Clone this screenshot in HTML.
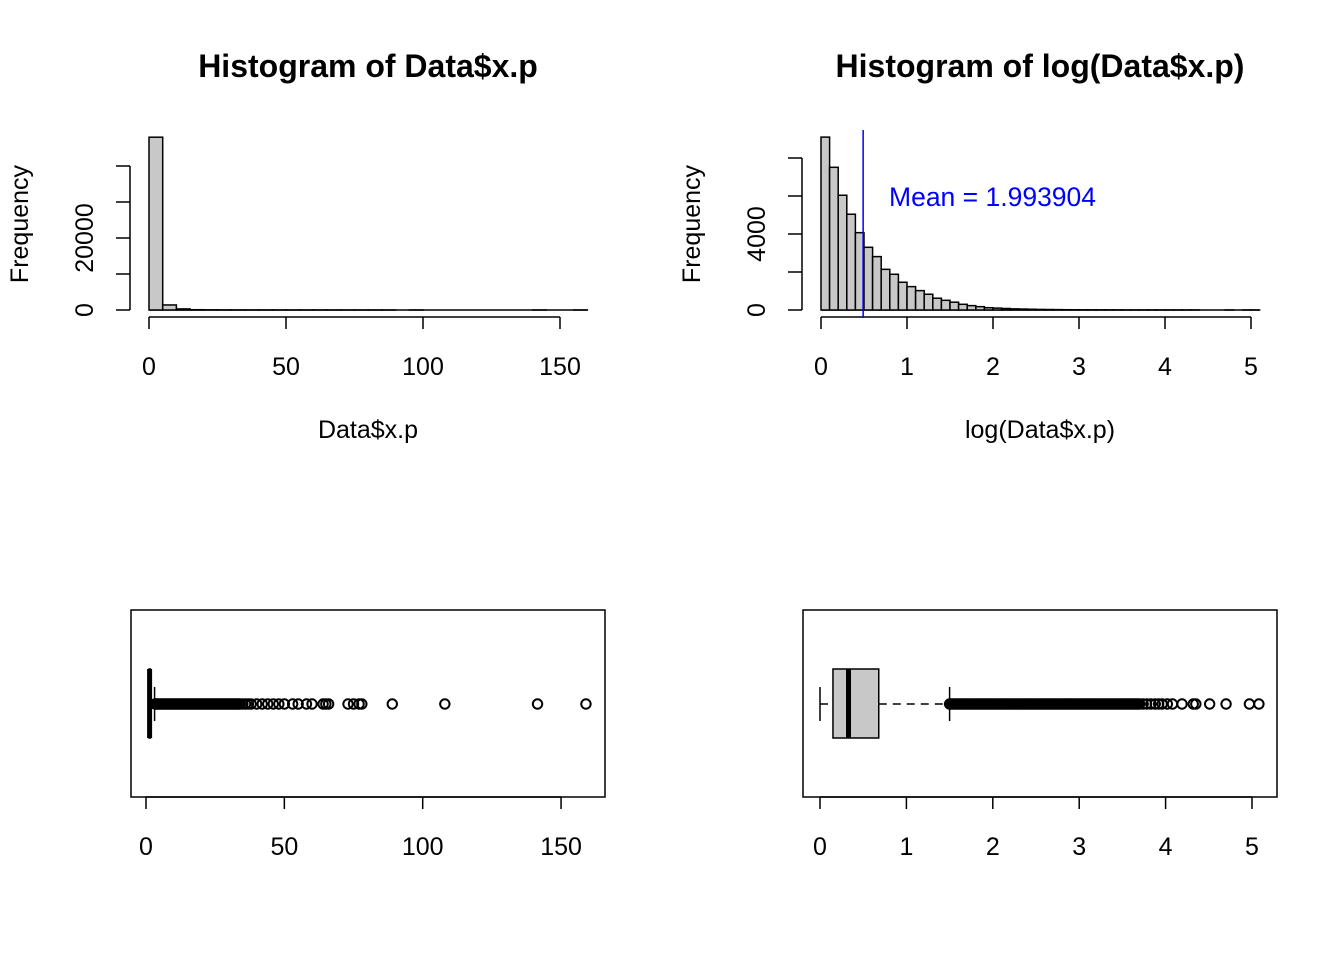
<!DOCTYPE html>
<html><head><meta charset="utf-8"><style>
body{margin:0;background:#fff}
svg{display:block;font-family:"Liberation Sans",Arial,sans-serif}
</style></head><body>
<svg id="c" width="1344" height="960" viewBox="0 0 1344 960" xmlns="http://www.w3.org/2000/svg"></svg>
<script>
// Histogram 1 (Data$x.p), bin width 5
const h1Counts = [48000, 1400, 300, 80, 40, 20, 12, 8, 5, 4, 3, 2, 2, 1, 1, 1, 1, 1, 0, 1, 0, 0, 0, 0, 0, 0, 0, 0, 1, 0, 0, 1];
const h1XTicks = [0, 50, 100, 150];
const h1YTicks = [0, 10000, 20000, 30000, 40000];
const h1YLabels = ["0", "", "20000", "", ""];
// Histogram 2 (log), bin width 0.1
const h2Counts = [9100, 7510, 6040, 5040, 4070, 3300, 2810, 2140, 1880, 1460, 1230, 1020, 830, 620, 510, 410, 300, 230, 175, 120, 100, 80, 60, 50, 40, 30, 25, 20, 15, 12, 10, 8, 6, 5, 4, 3, 3, 2, 2, 1, 1, 1, 1, 1, 0, 0, 0, 1, 0, 1, 1];
const h2XTicks = [0, 1, 2, 3, 4, 5];
const h2YTicks = [0, 2000, 4000, 6000, 8000];
const h2YLabels = ["0", "", "4000", "", ""];
const meanLog = 0.49;
const meanLabel = "Mean = 1.993904";
// Boxplot 1 stats: min, q1, median, q3, upper whisker
const b1Stats = [0.9, 1.1, 1.3, 1.6, 3.1];
const b1Out = [3.3,3.6,4,4.5,5,5.5,6,6.5,7,7.5,8,8.5,9,9.5,10,10.5,11,11.5,12,12.5,13,13.5,14,14.5,15,15.5,16,16.5,17,17.5,18,18.5,19,19.5,20,20.5,21,21.5,22,22.5,23,23.5,24,24.5,25,25.5,26,26.5,27,27.5,28,28.5,29,29.5,30,30.5,31,31.5,32,32.5,33,33.5,34,35,36,37,38,40,42,44,46,48,50,53,55,58,60,64,65,66,73,75,77,78,89,108,141.5,159];
const b1Ticks = [0, 50, 100, 150];
// Boxplot 2 stats
const b2Stats = [0.0, 0.15, 0.33, 0.68, 1.5];
const b2Out = [1.5,1.52,1.54,1.56,1.58,1.6,1.62,1.64,1.66,1.68,1.7,1.72,1.74,1.76,1.78,1.8,1.82,1.84,1.86,1.88,1.9,1.92,1.94,1.96,1.98,2,2.02,2.04,2.06,2.08,2.1,2.12,2.14,2.16,2.18,2.2,2.22,2.24,2.26,2.28,2.3,2.32,2.34,2.36,2.38,2.4,2.42,2.44,2.46,2.48,2.5,2.52,2.54,2.56,2.58,2.6,2.62,2.64,2.66,2.68,2.7,2.72,2.74,2.76,2.78,2.8,2.82,2.84,2.86,2.88,2.9,2.92,2.94,2.96,2.98,3,3.02,3.04,3.06,3.08,3.1,3.12,3.14,3.16,3.18,3.2,3.22,3.24,3.26,3.28,3.3,3.32,3.34,3.36,3.38,3.4,3.42,3.44,3.46,3.48,3.5,3.52,3.54,3.56,3.58,3.6,3.62,3.64,3.66,3.68,3.7,3.74,3.78,3.83,3.88,3.92,3.96,4.02,4.08,4.19,4.32,4.35,4.51,4.70,4.97,5.08];
const b2Ticks = [0, 1, 2, 3, 4, 5];

const svg = document.getElementById('c');
const NS = 'http://www.w3.org/2000/svg';
function mk(tag, attrs, parent){const e=document.createElementNS(NS,tag);for(const k in attrs)e.setAttribute(k,attrs[k]);(parent||svg).appendChild(e);return e;}
function txt(x,y,s,size,opts){const t=mk('text',Object.assign({x:x,y:y,'font-size':size,'text-anchor':'middle',fill:'#000'},opts||{}));t.textContent=s;return t;}

function hist(counts,bw,x0px,pxPerUnit,y0,pxPerCount,name){
  const g=mk('g',{});
  
  
  mk('line',{x1:x0px,x2:x0px+counts.length*bw*pxPerUnit,y1:y0,y2:y0,stroke:'#000','stroke-width':1.5},g);
  counts.forEach((c,i)=>{
    const x=x0px+i*bw*pxPerUnit,w=bw*pxPerUnit,h=c*pxPerCount;
    const r=mk('rect',{x:x,y:y0-h,width:w,height:h,fill:'#c8c8c8',stroke:'#000','stroke-width':1.5},g);
    
    
  });
}
function xAxis(ticks,x0,ppu,y,labelY,name){
  const g=mk('g',{});
  
  
  const xs=ticks.map(v=>x0+v*ppu);
  mk('line',{x1:xs[0],x2:xs[xs.length-1],y1:y,y2:y,stroke:'#000','stroke-width':1.5},g);
  ticks.forEach((v,i)=>{mk('line',{x1:xs[i],x2:xs[i],y1:y,y2:y+12,stroke:'#000','stroke-width':1.5},g);
    g.appendChild(txt(xs[i],labelY,String(v),25));});
}
function yAxis(ticks,labels,x,y0,ppc,name){
  const g=mk('g',{});
  
  
  const ys=ticks.map(v=>y0-v*ppc);
  mk('line',{x1:x,x2:x,y1:ys[0],y2:ys[ys.length-1],stroke:'#000','stroke-width':1.5},g);
  ticks.forEach((v,i)=>{mk('line',{x1:x,x2:x-14,y1:ys[i],y2:ys[i],stroke:'#000','stroke-width':1.5},g);
    if(labels[i]){const bx=x-37;const t=txt(bx,ys[i],labels[i],25,{transform:`rotate(-90 ${bx} ${ys[i]})`});g.appendChild(t);}});
}

// Panel 1
txt(368,77,'Histogram of Data$x.p',32,{'font-weight':'bold'});
hist(h1Counts,5,149,2.74,310,0.0036,'histogram-raw-bars');
xAxis(h1XTicks,149,2.74,317,375,'x-axis-hist-raw');
yAxis(h1YTicks,h1YLabels,130,310,0.0036,'y-axis-hist-raw');
txt(368,438,'Data$x.p',25);
(function(){const t=txt(28,224,'Frequency',25,{transform:'rotate(-90 28 224)'});})();

// Panel 2
txt(1040,77,'Histogram of log(Data$x.p)',32,{'font-weight':'bold'});
hist(h2Counts,0.1,821,86,310,0.019,'histogram-log-bars');
xAxis(h2XTicks,821,86,317,375,'x-axis-hist-log');
yAxis(h2YTicks,h2YLabels,802,310,0.019,'y-axis-hist-log');
txt(1040,438,'log(Data$x.p)',25);
(function(){const t=txt(700,224,'Frequency',25,{transform:'rotate(-90 700 224)'});})();
(function(){const mx=821+meanLog*86;const l=mk('line',{x1:mx,x2:mx,y1:130,y2:318,stroke:'#0000ff','stroke-width':1.5});
 
 
 const t=txt(889,206,meanLabel,26.5,{'text-anchor':'start',fill:'#0000ff'});})();

function boxplot(stats,outs,ticks,fx,fw,x0,ppu,name){
  const g=mk('g',{});
  
  
  const X=v=>x0+v*ppu, cy=704;
  mk('rect',{x:fx,y:610,width:fw,height:187,fill:'none',stroke:'#000','stroke-width':1.5},g);
  mk('line',{x1:X(stats[0]),x2:X(stats[1]),y1:cy,y2:cy,stroke:'#000','stroke-width':1.5,'stroke-dasharray':'8,6'},g);
  mk('line',{x1:X(stats[3]),x2:X(stats[4]),y1:cy,y2:cy,stroke:'#000','stroke-width':1.5,'stroke-dasharray':'8,6'},g);
  mk('line',{x1:X(stats[0]),x2:X(stats[0]),y1:687,y2:721,stroke:'#000','stroke-width':1.5},g);
  mk('line',{x1:X(stats[4]),x2:X(stats[4]),y1:687,y2:721,stroke:'#000','stroke-width':1.5},g);
  mk('rect',{x:X(stats[1]),y:669,width:X(stats[3])-X(stats[1]),height:69,fill:'#c8c8c8',stroke:'#000','stroke-width':1.5},g);
  mk('line',{x1:X(stats[2]),x2:X(stats[2]),y1:669,y2:738,stroke:'#000','stroke-width':5},g);
  outs.forEach(v=>{const c=mk('circle',{cx:X(v),cy:cy,r:4.7,fill:'none',stroke:'#000','stroke-width':2},g);
    
    });
  const ya=mk('g',{},g);
  
  
  mk('line',{x1:X(ticks[0]),x2:X(ticks[ticks.length-1]),y1:797,y2:797,stroke:'#000','stroke-width':1.5},ya);
  ticks.forEach(v=>{mk('line',{x1:X(v),x2:X(v),y1:797,y2:809,stroke:'#000','stroke-width':1.5},ya);
    ya.appendChild(txt(X(v),855,String(v),25));});
}
boxplot(b1Stats,b1Out,b1Ticks,131,474,146,2.767,'boxplot-raw');
boxplot(b2Stats,b2Out,b2Ticks,803,474,820,86.4,'boxplot-log');
</script>
</body></html>
